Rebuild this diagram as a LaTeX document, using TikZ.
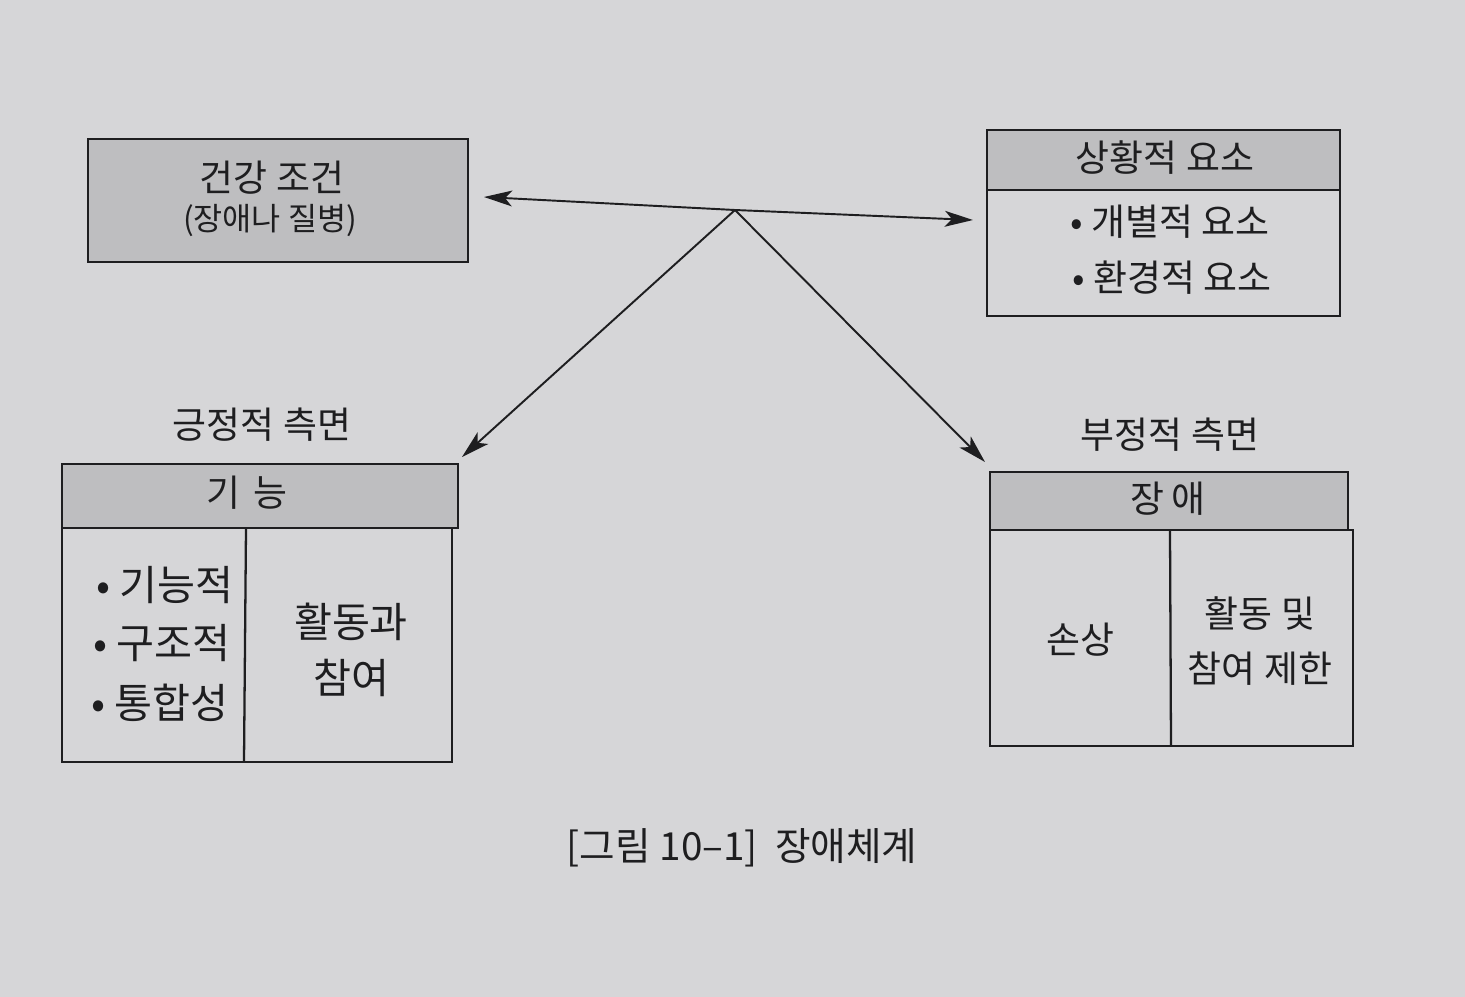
\documentclass[tikz,border=0pt]{standalone}
\usepackage{fontspec}
\setmainfont{Noto Sans CJK KR}
\usetikzlibrary{arrows.meta}
\definecolor{paper}{RGB}{214,214,216}
\definecolor{hdr}{RGB}{190,190,192}
\definecolor{ink}{RGB}{30,30,32}
\tikzset{
  boxline/.style={draw=ink, line width=1.3pt},
  hdrbox/.style={boxline, fill=hdr},
  bodybox/.style={boxline, fill=paper},
  txt/.style={text=ink, font=\fontsize{21}{27}\selectfont, inner sep=0pt, align=center},
  bigtxt/.style={text=ink, font=\fontsize{23.5}{30}\selectfont, inner sep=0pt, align=center},
  subtxt/.style={text=ink, font=\fontsize{18}{24}\selectfont, inner sep=0pt, align=center},
  captxt/.style={text=ink, font=\fontsize{22}{28}\selectfont, inner sep=0pt},
  conn/.style={draw=ink, line width=1.1pt, -{Stealth[length=16pt,width=9pt,inset=4pt]}},
}
\begin{document}
\begin{tikzpicture}[x=0.2mm, y=-0.2mm]
\useasboundingbox (0,0) rectangle (1465,997);
\fill[paper] (0,0) rectangle (1465,997);

% Box 1: health condition
\draw[hdrbox] (88,139) rectangle (468,262);
\node[txt] (b1t) at (272,178) {건강 조건};
\node[subtxt] (b1s) at (270,221) {(장애나 질병)};

% Box 2: contextual factors
\draw[hdrbox] (987,130) rectangle (1340,190);
\draw[bodybox] (987,190) rectangle (1340,316);
\node[txt] (b2t) at (1165,158) {상황적 요소};
\node[txt] (b2a) at (1170,222) {• 개별적 요소};
\node[txt] (b2b) at (1172,278) {• 환경적 요소};

% Box 3: function
\node[txt] (pos) at (262,425) {긍정적 측면};
\draw[hdrbox] (62,464) rectangle (458,528);
\draw[bodybox] (62,528) rectangle (452,762);
\draw[boxline] (246,528) -- (244,762);
\node[txt] (b3t) at (247,493) {기\,\,능};
\node[bigtxt,anchor=west] (b3a) at (96,585) {• 기능적};
\node[bigtxt,anchor=west] (b3b) at (93,643) {• 구조적};
\node[bigtxt,anchor=west] (b3c) at (91,703) {• 통합성};
\node[bigtxt] (b3d) at (351,650) {활동과\\[2pt]참여};

% Box 4: disability
\node[txt] (neg) at (1170,435) {부정적 측면};
\draw[hdrbox] (990,472) rectangle (1348,530);
\draw[bodybox] (990,530) rectangle (1353,746);
\draw[boxline] (1170,530) -- (1171,746);
\node[txt] (b4t) at (1168,499) {장\,애};
\node[txt] (b4a) at (1080,640) {손상};
\node[txt] (b4b) at (1260,641) {활동 및\\[4pt]참여 제한};

% connectors
\coordinate (J) at (735,210);
\coordinate (t1) at (484,197);
\coordinate (t2) at (973,220);
\coordinate (t3) at (462,457);
\coordinate (t4) at (985,462);
\draw[conn] (J) -- (t1);
\draw[conn] (J) -- (t2);
\draw[conn] (J) -- (t3);
\draw[conn] (J) -- (t4);

% caption
\node[captxt] (cap) at (742,848) {[그림 10–1]\ \ 장애체계};
\end{tikzpicture}
\end{document}
